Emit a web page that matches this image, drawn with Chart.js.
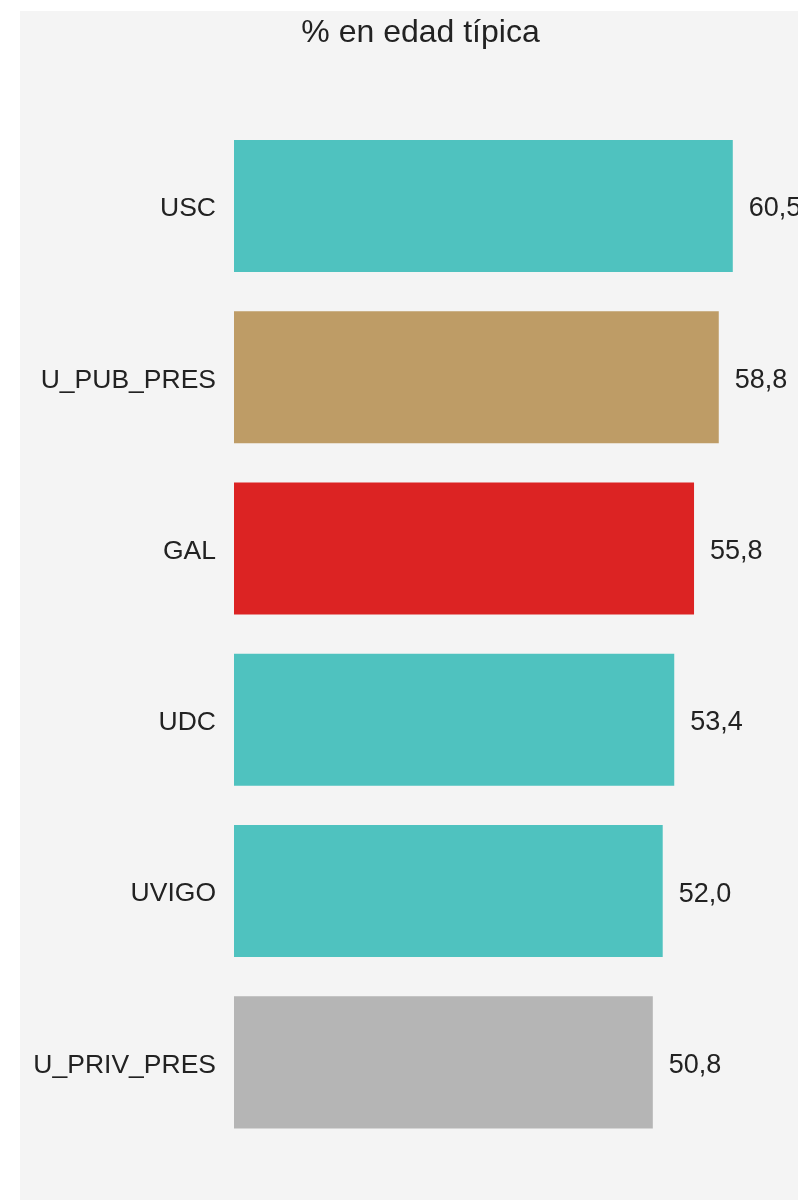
<!DOCTYPE html>
<html>
<head>
<meta charset="utf-8">
<script src="https://cdn.jsdelivr.net/npm/chart.js@4"></script>
<style>
  html, body { margin: 0; padding: 0; background: #fff; }
  #wrap { position: absolute; left: 20px; top: 11px; width: 778px; height: 1189px; overflow: hidden; background: #f4f4f4; }
  #chart { display: block; }
</style>
</head>
<body>
<div id="wrap"><canvas id="chart" width="801" height="1189" style="width:801px;height:1189px"></canvas></div>
<script>
const categories = ["USC", "U_PUB_PRES", "GAL", "UDC", "UVIGO", "U_PRIV_PRES"];
const values = [60.5, 58.8, 55.8, 53.4, 52.0, 50.8];
const barColors = ["#4fc2bf", "#be9c66", "#dc2323", "#4fc2bf", "#4fc2bf", "#b5b5b5"];

const FONT = "'Liberation Sans', Arial, sans-serif";

// etiquetas de valor al final de cada barra
const valueLabels = {
  id: "valueLabels",
  afterDatasetsDraw(chart) {
    const ctx = chart.ctx;
    const meta = chart.getDatasetMeta(0);
    ctx.save();
    ctx.font = "27px " + FONT;
    ctx.fillStyle = "#222";
    ctx.textAlign = "left";
    ctx.textBaseline = "middle";
    meta.data.forEach((bar, i) => {
      const txt = values[i].toFixed(1).replace(".", ",");
      ctx.fillText(txt, bar.x + 16, bar.y + 3);
    });
    ctx.restore();
  },
};

new Chart(document.getElementById("chart").getContext("2d"), {
  type: "bar",
  data: {
    labels: categories,
    datasets: [
      {
        data: values,
        backgroundColor: barColors,
        borderWidth: 0,
        categoryPercentage: 1,
        barPercentage: 0.771,
      },
    ],
  },
  options: {
    indexAxis: "y",
    responsive: false,
    animation: false,
    layout: { padding: { top: 0, right: 0, bottom: 52, left: 0 } },
    plugins: {
      legend: { display: false },
      tooltip: { enabled: false },
      title: {
        display: true,
        text: "% en edad típica",
        color: "#222",
        font: { family: FONT, size: 32, weight: "normal" },
        padding: { top: 3, bottom: 68 },
      },
    },
    scales: {
      x: { display: false, min: 0, max: 71.2 },
      y: {
        grid: { display: false, drawTicks: false },
        border: { display: false },
        ticks: { color: "#222", padding: 18, labelOffset: 3, font: { family: FONT, size: 26.5 } },
        afterFit(scale) { scale.width = 214; },
      },
    },
  },
  plugins: [valueLabels],
});
</script>
</body>
</html>
